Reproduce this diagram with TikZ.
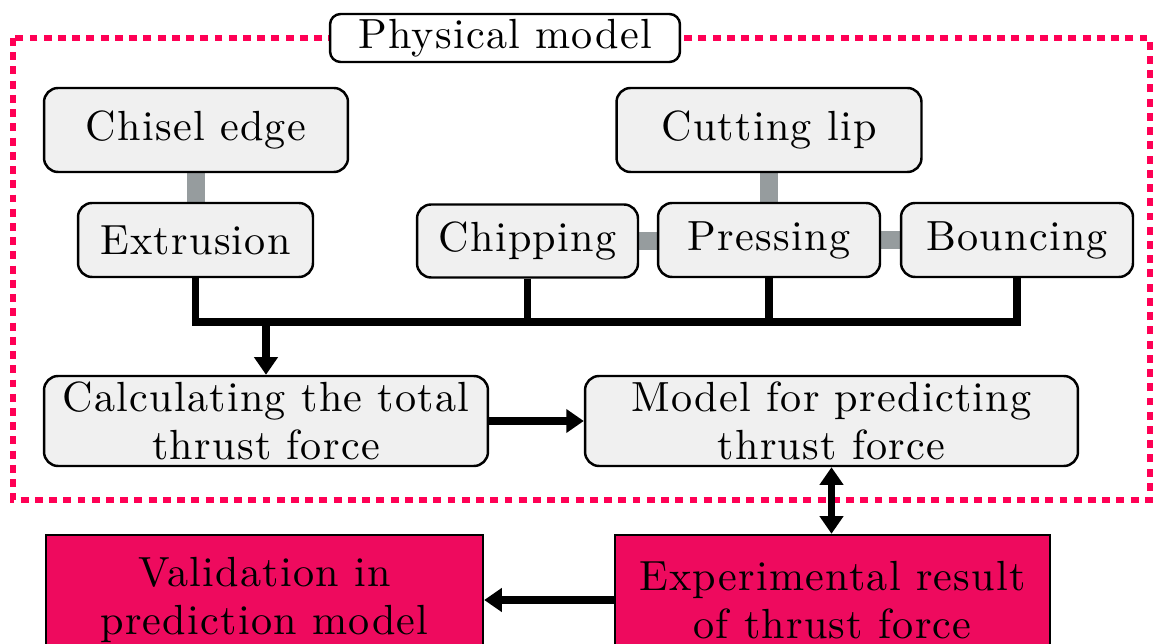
\documentclass[tikz,border=0pt]{standalone}
\usepackage{fontspec}
\setmainfont{lmroman10-regular.otf}[LetterSpace=3]
\usetikzlibrary{arrows.meta,backgrounds}
\definecolor{framepink}{RGB}{255,0,85}
\definecolor{boxgray}{RGB}{240,240,240}
\definecolor{linkgray}{RGB}{150,156,158}
\definecolor{resultred}{RGB}{238,10,94}
\begin{document}
\begin{tikzpicture}[x=0.02cm,y=-0.02cm,
        every node/.style={font=\fontsize{24}{27}\selectfont, align=center, inner sep=0pt},
        stage/.style={draw, line width=1.4pt, rounded corners=8pt, fill=boxgray},
        result/.style={draw, line width=1.4pt, fill=resultred},
        link/.style={linkgray, line width=10pt},
        bus/.style={line width=4.5pt},
        flow/.style={line width=4.5pt, -{Triangle[length=10pt,width=13pt]}}]
        \useasboundingbox (0,0) rectangle (1158,644);
        \clip (0,0) rectangle (1158,644);

        \draw[framepink, line width=3.4pt, dash pattern=on 4.5pt off 3.6pt] (13,38) rectangle (1150,500);

        \node[draw, line width=1.4pt, rounded corners=6pt, fill=white, minimum width=7cm, minimum height=0.96cm] (phys) at (505,38) {Physical model};

        \node[stage, minimum width=6.08cm, minimum height=1.68cm] (chisel) at (196,130) {Chisel edge};
        \node[stage, minimum width=6.1cm, minimum height=1.68cm] (cutting) at (769,130) {Cutting lip};
        \node[stage, minimum width=4.7cm, minimum height=1.48cm] (extr) at (195.5,240) {Extrusion};
        \node[stage, minimum width=4.42cm, minimum height=1.46cm] (chip) at (527.5,241) {Chipping};
        \node[stage, minimum width=4.44cm, minimum height=1.48cm] (press) at (769,240) {Pressing};
        \node[stage, minimum width=4.64cm, minimum height=1.48cm] (bounce) at (1017,240) {Bouncing};
        \node[stage, minimum width=8.88cm, minimum height=1.8cm] (calc) at (266,421) {Calculating the total\\thrust force};
        \node[stage, minimum width=9.86cm, minimum height=1.8cm] (model) at (831.5,421) {Model for predicting\\thrust force};
        \node[result, minimum width=8.74cm, minimum height=2.6cm] (valid) at (264.5,600) {Validation in\\prediction model};
        \node[result, minimum width=8.7cm, minimum height=2.6cm] (exper) at (832.5,600) {Experimental result\\of thrust force};

        \begin{scope}[on background layer]
            \draw[link] (chisel.south) -- (chisel.south |- extr.north);
            \draw[link] (cutting.south) -- (press.north);
            \draw[link] (chip.east) -- (chip.east -| press.west);
            \draw[link] (press.east) -- (bounce.west);
        \end{scope}

        \coordinate (junction) at (0,322);
        \draw[bus] (extr.south) -- (extr.south |- junction) -- (bounce.south |- junction) -- (bounce.south);
        \draw[bus] (chip.south) -- (chip.south |- junction);
        \draw[bus] (press.south) -- (press.south |- junction);
        \draw[flow] (calc.north |- junction) -- (calc.north);
        \draw[flow] (calc.east) -- (model.west);
        \draw[flow, {Triangle[length=10pt,width=13pt]}-{Triangle[length=10pt,width=13pt]}] (model.south) -- (model.south |- exper.north);
        \draw[flow] (exper.west) -- (valid.east);
\end{tikzpicture}
\end{document}
